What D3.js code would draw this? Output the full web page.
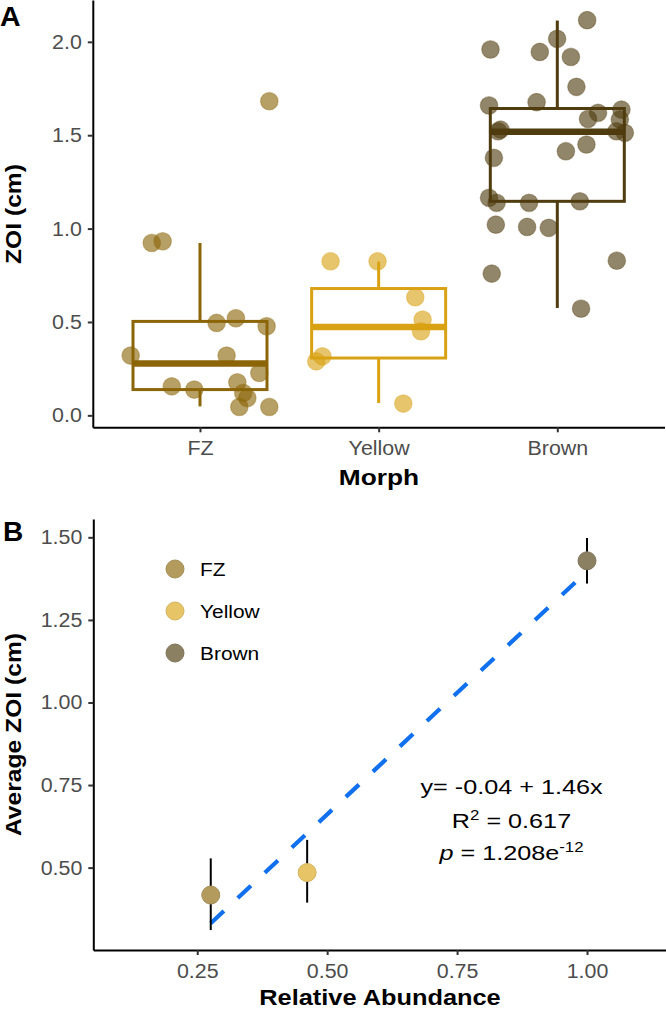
<!DOCTYPE html>
<html>
<head>
<meta charset="utf-8">
<script src="https://cdn.jsdelivr.net/npm/d3@7"></script>
<style>
  html, body { margin: 0; padding: 0; background: #fff; }
  svg { display: block; font-family: "Liberation Sans", Arial, Helvetica, sans-serif; }
</style>
</head>
<body>
<svg id="chart" width="666" height="1010"></svg>
<script>
// ---------------- DATA ----------------
const morphs = ["FZ", "Yellow", "Brown"];
const boxColors = ["#8B6508", "#D9A214", "#4F3C0F"];
const pointColors = ["#B39B5E", "#E7C466", "#8C8063"];

// Panel A: individual ZOI values (cm) with their horizontal jitter (in category widths)
const fzZOI     = [0.32, 0.155, 0.138, 0.495, 0.52, 0.477, 0.32, 0.227, 0.177, 0.12, 0.093, 0.045, 0.045, 0.923, 0.932, 1.682];
const fzJitter  = [-0.388, -0.158, -0.032, 0.093, 0.201, 0.373, 0.149, 0.332, 0.209, 0.242, 0.265, 0.220, 0.388, -0.270, -0.209, 0.388];
const yellowZOI    = [0.289, 0.316, 0.825, 0.825, 0.632, 0.513, 0.45, 0.063];
const yellowJitter = [-0.349, -0.315, -0.269, -0.006, 0.205, 0.246, 0.237, 0.138];
const brownZOI    = [2.116, 2.016, 1.959, 1.946, 1.919, 1.759, 1.659, 1.677, 1.637, 1.62, 1.587, 1.584, 1.530, 1.521, 1.521, 1.513, 1.45, 1.414, 1.379, 1.165, 1.138, 1.138, 1.146, 1.021, 1.009, 1.004, 0.759, 0.828, 0.571];
const brownJitter = [0.167, -0.001, -0.374, -0.098, 0.076, 0.107, -0.382, -0.116, 0.359, 0.228, 0.172, 0.35, -0.318, -0.331, 0.331, 0.378, 0.163, 0.048, -0.355, -0.382, -0.340, -0.158, 0.126, -0.344, -0.169, -0.048, -0.367, 0.333, 0.133];

// Box statistics per morph
const boxLow    = [0.048, 0.066, 0.575];
const boxQ1     = [0.138, 0.307, 1.146];
const boxMedian = [0.277, 0.473, 1.518];
const boxQ3     = [0.503, 0.679, 1.643];
const boxHigh   = [0.923, 0.823, 2.114];

const yTicksA = [0, 0.5, 1.0, 1.5, 2.0];

// Panel B: mean ZOI vs relative abundance
const relAbundance = [0.276, 0.4615, 1.0];
const meanZOI      = [0.417, 0.485, 1.429];
const errLow       = [0.311, 0.394, 1.360];
const errHigh      = [0.528, 0.584, 1.498];
const fitX = [0.276, 1.0];
const fitY = [0.3315, 1.397];
const xTicksB = [0.25, 0.50, 0.75, 1.00];
const yTicksB = [0.50, 0.75, 1.00, 1.25, 1.50];

// ---------------- HELPERS ----------------
const svg = d3.select("#chart");
function stretch(sel, s) {
  sel.each(function () {
    const t = d3.select(this);
    const x = +(t.attr("x") || 0);
    t.attr("x", x / s);
    const tr = t.attr("transform") || "";
    t.attr("transform", (tr + " scale(" + s + ",1)").trim());
  });
}
function styleAxis(g) {
  g.select(".domain").attr("stroke", "#000").attr("stroke-width", 2);
  g.selectAll(".tick line").attr("stroke", "#333").attr("stroke-width", 2);
  g.selectAll(".tick text").attr("fill", "#4D4D4D").attr("font-size", 20);
  stretch(g.selectAll(".tick text"), 1.07);
}

// ---------------- PANEL A ----------------
const xA = d3.scalePoint().domain(morphs).range([92.8, 664.5]).padding(0.6);
const stepA = xA.step();
const yA = d3.scaleLinear().domain([-0.064, 2.224]).range([427.3, 0]);

const gA = svg.append("g");

// boxes
morphs.forEach((m, i) => {
  const cx = xA(m), hw = stepA * 0.75 / 2, col = boxColors[i];
  const bg = gA.append("g").attr("stroke", col).attr("fill", "none");
  bg.append("line").attr("x1", cx).attr("x2", cx).attr("y1", yA(boxQ3[i])).attr("y2", yA(boxHigh[i])).attr("stroke-width", 3);
  bg.append("line").attr("x1", cx).attr("x2", cx).attr("y1", yA(boxQ1[i])).attr("y2", yA(boxLow[i])).attr("stroke-width", 3);
  bg.append("rect").attr("x", cx - hw).attr("width", 2 * hw)
    .attr("y", yA(boxQ3[i])).attr("height", yA(boxQ1[i]) - yA(boxQ3[i]))
    .attr("stroke-width", 3);
  bg.append("line").attr("x1", cx - hw).attr("x2", cx + hw)
    .attr("y1", yA(boxMedian[i])).attr("y2", yA(boxMedian[i])).attr("stroke-width", 6.5);
});

// jittered points
const groups = [[fzZOI, fzJitter], [yellowZOI, yellowJitter], [brownZOI, brownJitter]];
groups.forEach(([vals, jit], i) => {
  const m = morphs[i];
  gA.append("g").selectAll("circle").data(vals).join("circle")
    .attr("cx", (d, k) => xA(m) + jit[k] * stepA)
    .attr("cy", d => yA(d))
    .attr("r", 8.8)
    .attr("fill", boxColors[i]).attr("fill-opacity", 0.62)
    .attr("stroke", boxColors[i]).attr("stroke-opacity", 0.35).attr("stroke-width", 1.2);
});

// axes A
const axAy = gA.append("g").attr("transform", "translate(92.8,0)")
  .call(d3.axisLeft(yA).tickValues(yTicksA).tickFormat(d3.format(".1f")).tickSize(5).tickPadding(6).tickSizeOuter(0));
styleAxis(axAy);
const axAx = gA.append("g").attr("transform", "translate(0,427.3)")
  .call(d3.axisBottom(xA).tickSize(5).tickPadding(8.5).tickSizeOuter(0));
styleAxis(axAx);

// titles A
const tA1 = svg.append("text").attr("x", 379).attr("y", 485).attr("text-anchor", "middle")
  .attr("font-weight", "bold").attr("font-size", 22.5).text("Morph");
stretch(tA1, 1.17);
const tA2 = svg.append("text").attr("transform", "translate(21,214) rotate(-90)").attr("text-anchor", "middle")
  .attr("font-weight", "bold").attr("font-size", 22).text("ZOI (cm)");
stretch(tA2, 1.12);
svg.append("text").attr("x", 0).attr("y", 26).attr("font-weight", "bold").attr("font-size", 28.5).text("A");

// ---------------- PANEL B ----------------
const xB = d3.scaleLinear().domain([0.05, 1.152]).range([93.3, 666]);
const yB = d3.scaleLinear().domain([0.2506, 1.5555]).range([950, 519]);
const gB = svg.append("g");

// regression line
gB.append("path")
  .attr("d", d3.line().x((d, k) => xB(fitX[k])).y(d => yB(d))(fitY))
  .attr("stroke", "#1170EE").attr("stroke-width", 4.2).attr("fill", "none")
  .attr("stroke-dasharray", "18,19");

// error bars
gB.append("g").selectAll("line").data(relAbundance).join("line")
  .attr("x1", d => xB(d)).attr("x2", d => xB(d))
  .attr("y1", (d, k) => yB(errLow[k])).attr("y2", (d, k) => yB(errHigh[k]))
  .attr("stroke", "#000").attr("stroke-width", 2);

// points
gB.append("g").selectAll("circle").data(relAbundance).join("circle")
  .attr("cx", d => xB(d)).attr("cy", (d, k) => yB(meanZOI[k]))
  .attr("r", 9)
  .attr("fill", (d, k) => pointColors[k])
  .attr("stroke", (d, k) => d3.color(pointColors[k]).darker(0.25)).attr("stroke-width", 1);

// axes B
const axBy = gB.append("g").attr("transform", "translate(93.3,0)")
  .call(d3.axisLeft(yB).tickValues(yTicksB).tickFormat(d3.format(".2f")).tickSize(5).tickPadding(6).tickSizeOuter(0));
styleAxis(axBy);
const axBx = gB.append("g").attr("transform", "translate(0,950)")
  .call(d3.axisBottom(xB).tickValues(xTicksB).tickFormat(d3.format(".2f")).tickSize(5).tickPadding(8.5).tickSizeOuter(0));
styleAxis(axBx);

// legend
const legY = [569, 611, 653];
morphs.forEach((m, i) => {
  svg.append("circle").attr("cx", 175).attr("cy", legY[i]).attr("r", 9)
    .attr("fill", pointColors[i]).attr("stroke", d3.color(pointColors[i]).darker(0.25)).attr("stroke-width", 1);
  const t = svg.append("text").attr("x", 200).attr("y", legY[i] + 7).attr("font-size", 19).attr("fill", "#000").text(m);
  stretch(t, 1.1);
});

// annotation
const ann = svg.append("g").attr("font-size", 21).attr("fill", "#000");
const a1 = ann.append("text").attr("x", 511.5).attr("y", 794).attr("text-anchor", "middle").text("y= -0.04 + 1.46x");
const a2 = ann.append("text").attr("x", 511.5).attr("y", 828).attr("text-anchor", "middle");
a2.append("tspan").text("R");
a2.append("tspan").attr("font-size", 14).attr("dy", -8).text("2");
a2.append("tspan").attr("dy", 8).text(" = 0.617");
const a3 = ann.append("text").attr("x", 511.5).attr("y", 860).attr("text-anchor", "middle");
a3.append("tspan").attr("font-style", "italic").text("p");
a3.append("tspan").text(" = 1.208e");
a3.append("tspan").attr("font-size", 14).attr("dy", -8).text("-12");
stretch(ann.selectAll("text"), 1.2);

// titles B
const tB1 = svg.append("text").attr("x", 380).attr("y", 1005).attr("text-anchor", "middle")
  .attr("font-weight", "bold").attr("font-size", 21.5).text("Relative Abundance");
stretch(tB1, 1.18);
const tB2 = svg.append("text").attr("transform", "translate(21,734.5) rotate(-90)").attr("text-anchor", "middle")
  .attr("font-weight", "bold").attr("font-size", 22).text("Average ZOI (cm)");
stretch(tB2, 1.12);
svg.append("text").attr("x", 3).attr("y", 541).attr("font-weight", "bold").attr("font-size", 28).text("B");
</script>
</body>
</html>
